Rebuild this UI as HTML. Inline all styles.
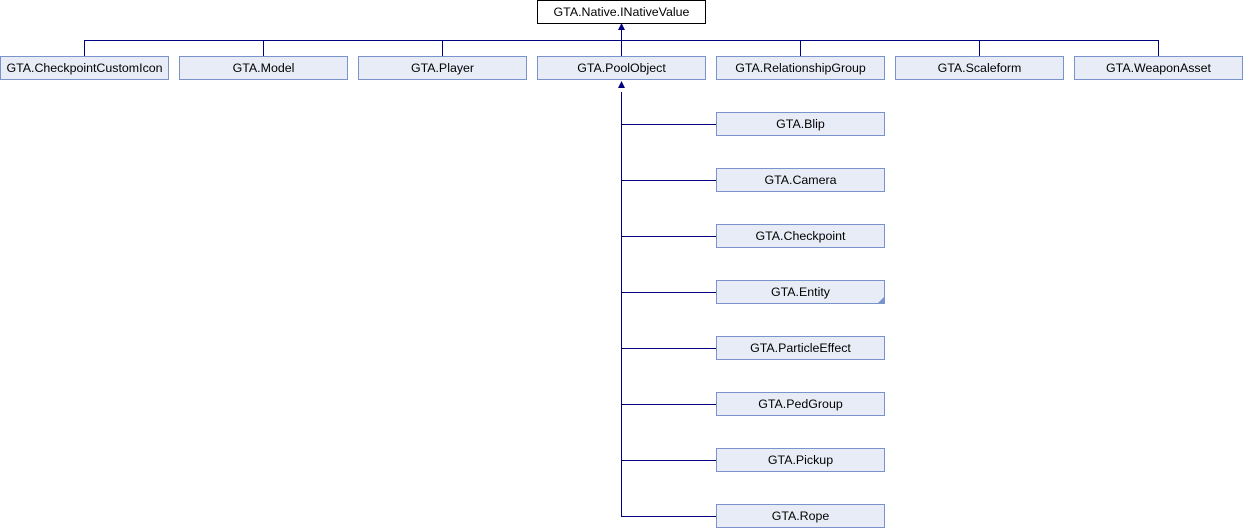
<!DOCTYPE html>
<html><head><meta charset="utf-8"><style>
html,body{margin:0;padding:0;background:#fff;width:1243px;height:528px;overflow:hidden}
text{font-family:"Liberation Sans",Arial,sans-serif;font-size:12.4px;fill:#000}
</style></head><body>
<svg width="1243" height="528" viewBox="0 0 1243 528" xmlns="http://www.w3.org/2000/svg">
<g stroke="#000080" stroke-width="1" fill="none">
<path d="M84.5 56V40.5H1158.5V56"/>
<path d="M263.5 40V56M442.5 40V56M621.5 28V56M800.5 40V56M979.5 40V56"/>
<path d="M621.5 92V516.5H716"/>
<path d="M621.5 124.5H716M621.5 180.5H716M621.5 236.5H716M621.5 292.5H716M621.5 348.5H716M621.5 404.5H716M621.5 460.5H716"/>
</g>
<g fill="#000080">
<polygon points="621.5,23 618,30 625,30"/>
<polygon points="621.5,81 618,88 625,88"/>
</g>
<rect x="537.5" y="0.5" width="168" height="23" fill="#fff" stroke="#000"/>
<text x="621.5" y="16" text-anchor="middle">GTA.Native.INativeValue</text>
<g fill="#e8ecf6" stroke="#7b93cb">
<rect x="0.5" y="56.5" width="168" height="23"/>
<rect x="179.5" y="56.5" width="168" height="23"/>
<rect x="358.5" y="56.5" width="168" height="23"/>
<rect x="537.5" y="56.5" width="168" height="23"/>
<rect x="716.5" y="56.5" width="168" height="23"/>
<rect x="895.5" y="56.5" width="168" height="23"/>
<rect x="1074.5" y="56.5" width="168" height="23"/>
<rect x="716.5" y="112.5" width="168" height="23"/>
<rect x="716.5" y="168.5" width="168" height="23"/>
<rect x="716.5" y="224.5" width="168" height="23"/>
<rect x="716.5" y="280.5" width="168" height="23"/>
<rect x="716.5" y="336.5" width="168" height="23"/>
<rect x="716.5" y="392.5" width="168" height="23"/>
<rect x="716.5" y="448.5" width="168" height="23"/>
<rect x="716.5" y="504.5" width="168" height="23"/>
</g>
<polygon points="884,297 884,303 878,303" fill="#7b93cb"/>
<g text-anchor="middle">
<text x="84.5" y="72">GTA.CheckpointCustomIcon</text>
<text x="263.5" y="72">GTA.Model</text>
<text x="442.5" y="72">GTA.Player</text>
<text x="621.5" y="72">GTA.PoolObject</text>
<text x="800.5" y="72">GTA.RelationshipGroup</text>
<text x="979.5" y="72">GTA.Scaleform</text>
<text x="1158.5" y="72">GTA.WeaponAsset</text>
<text x="800.5" y="128">GTA.Blip</text>
<text x="800.5" y="184">GTA.Camera</text>
<text x="800.5" y="240">GTA.Checkpoint</text>
<text x="800.5" y="296">GTA.Entity</text>
<text x="800.5" y="352">GTA.ParticleEffect</text>
<text x="800.5" y="408">GTA.PedGroup</text>
<text x="800.5" y="464">GTA.Pickup</text>
<text x="800.5" y="520">GTA.Rope</text>
</g>
</svg>
</body></html>
